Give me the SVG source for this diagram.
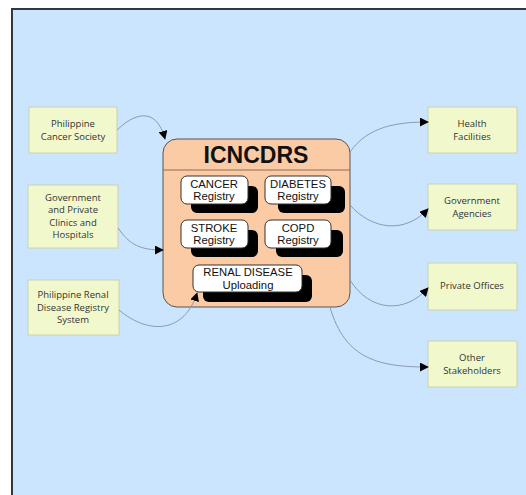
<svg xmlns="http://www.w3.org/2000/svg" width="526" height="495" viewBox="0 0 526 495">
<defs>
<style>
.ext{fill:#F1F9CC;stroke:#C9D2B0;stroke-width:1}
.et{font-family:"Open Sans","Noto Sans",sans-serif;font-size:9.5px;fill:#333;text-anchor:middle}
.reg{fill:#fff;stroke:#333;stroke-width:1}
.sh{fill:#000}
.rt{font-family:"Liberation Sans",Arial,sans-serif;font-size:11.3px;fill:#111;text-anchor:middle}
.con{fill:none;stroke:#8A9AAE;stroke-width:1;marker-end:url(#ah)}
</style>
<marker id="ah" viewBox="0 0 10 10" refX="9" refY="5" markerWidth="9" markerHeight="9" markerUnits="userSpaceOnUse" orient="auto">
<path d="M0,0 L10,5 L0,10 Z" fill="#000"/>
</marker>
</defs>
<rect x="0" y="0" width="526" height="495" fill="#fff"/>
<rect x="12" y="9" width="520" height="492" fill="#CCE5FF" stroke="#333840" stroke-width="2"/>

<g id="philippine-cancer-society">
<rect class="ext" x="29" y="107" width="88" height="46"/>
<text class="et" x="73" y="127">Philippine</text>
<text class="et" x="73" y="140">Cancer Society</text>
</g>
<g id="gov-private-clinics">
<rect class="ext" x="28" y="185" width="90" height="63"/>
<text class="et" x="73" y="200.5">Government</text>
<text class="et" x="73" y="213">and Private</text>
<text class="et" x="73" y="225.5">Clinics and</text>
<text class="et" x="73" y="238">Hospitals</text>
</g>
<g id="philippine-renal">
<rect class="ext" x="28" y="280" width="91" height="55"/>
<text class="et" x="73" y="298">Philippine Renal</text>
<text class="et" x="73" y="310.5">Disease Registry</text>
<text class="et" x="73" y="323">System</text>
</g>

<g id="icncdrs">
<rect x="163" y="139" width="187" height="168" rx="14" fill="#FBCBA6" stroke="#555" stroke-width="1"/>
<line x1="163" y1="170" x2="350" y2="170" stroke="#8A6A55" stroke-width="1"/>
<text x="256" y="163" font-family="'Liberation Sans',Arial,sans-serif" font-size="23" font-weight="bold" fill="#111" text-anchor="middle">ICNCDRS</text>
</g>
<g id="cancer-registry">
<rect class="sh" x="191" y="186" width="67" height="27" rx="6"/>
<rect class="reg" x="181" y="176" width="67" height="28" rx="6"/>
<text class="rt" x="214" y="187.5">CANCER</text>
<text class="rt" x="214" y="200">Registry</text>
</g>
<g id="diabetes-registry">
<rect class="sh" x="278" y="186" width="67" height="27" rx="6"/>
<rect class="reg" x="265" y="176" width="66" height="28" rx="6"/>
<text class="rt" x="298" y="187.5">DIABETES</text>
<text class="rt" x="298" y="200">Registry</text>
</g>
<g id="stroke-registry">
<rect class="sh" x="191" y="230" width="67" height="27" rx="6"/>
<rect class="reg" x="181" y="220" width="67" height="28" rx="6"/>
<text class="rt" x="214" y="231.5">STROKE</text>
<text class="rt" x="214" y="244">Registry</text>
</g>
<g id="copd-registry">
<rect class="sh" x="276" y="230" width="67" height="27" rx="6"/>
<rect class="reg" x="265" y="220" width="66" height="28" rx="6"/>
<text class="rt" x="298" y="231.5">COPD</text>
<text class="rt" x="298" y="244">Registry</text>
</g>
<g id="renal-disease-uploading">
<rect class="sh" x="203" y="275" width="109" height="27" rx="6"/>
<rect class="reg" x="193" y="265" width="109" height="27" rx="6"/>
<text class="rt" x="248" y="276">RENAL DISEASE</text>
<text class="rt" x="248" y="288.5">Uploading</text>
</g>

<g id="health-facilities">
<rect class="ext" x="428" y="107" width="89" height="46"/>
<text class="et" x="472" y="127">Health</text>
<text class="et" x="472" y="140">Facilities</text>
</g>
<g id="government-agencies">
<rect class="ext" x="428" y="184" width="89" height="46"/>
<text class="et" x="472" y="204">Government</text>
<text class="et" x="472" y="217">Agencies</text>
</g>
<g id="private-offices">
<rect class="ext" x="428" y="263" width="89" height="47"/>
<text class="et" x="472" y="289">Private Offices</text>
</g>
<g id="other-stakeholders">
<rect class="ext" x="428" y="341" width="89" height="46"/>
<text class="et" x="472" y="361">Other</text>
<text class="et" x="472" y="374">Stakeholders</text>
</g>

<g id="connectors">
<path class="con" d="M117,130 C140,108 158,112 165,139"/>
<path class="con" d="M118,228 C130,245 140,250 163,250"/>
<path class="con" d="M119,310 C150,336 185,332 197,293"/>
<path class="con" d="M350,152 C368,126 398,122 428,122"/>
<path class="con" d="M350,205 C372,230 405,234 428,209"/>
<path class="con" d="M350,280 C370,312 405,314 428,288"/>
<path class="con" d="M330,307 C345,360 380,367 428,367"/>
</g>
</svg>
